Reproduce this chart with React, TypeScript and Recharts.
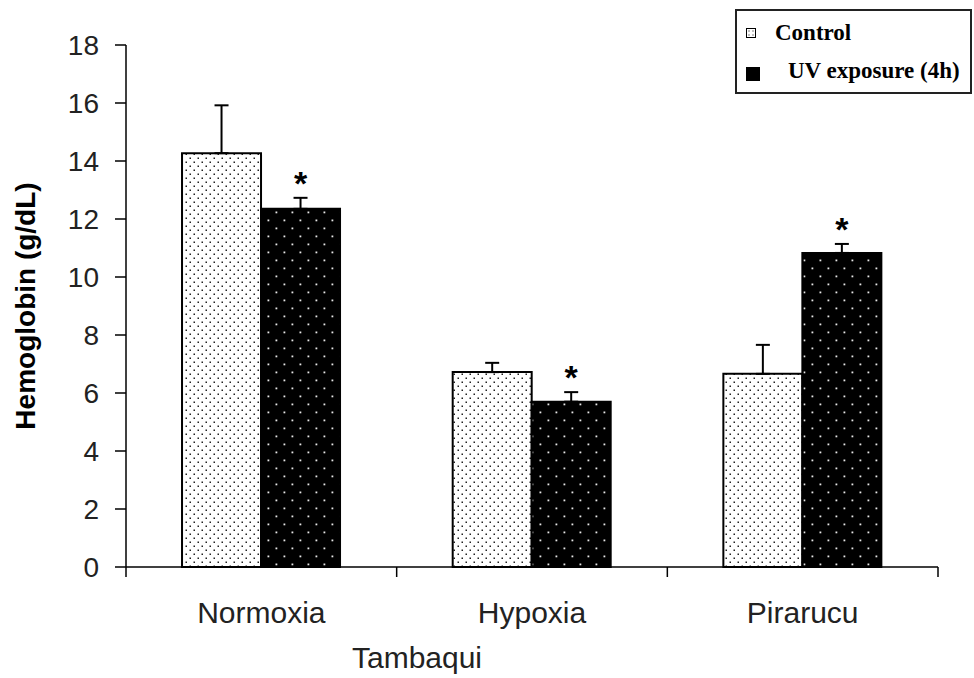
import React from "react";
import { BarChart, Bar, XAxis, YAxis, ErrorBar, LabelList, Label } from "recharts";

const categories = ["Normoxia", "Hypoxia", "Pirarucu"];
const controlMeans = [14.27, 6.72, 6.66];
const controlErrors = [1.65, 0.32, 1.0];
const uvMeans = [12.35, 5.7, 10.83];
const uvErrors = [0.38, 0.33, 0.31];
const uvSignificant = [true, true, true];
const yTicks = [0, 2, 4, 6, 8, 10, 12, 14, 16, 18];
const seriesNames = ["Control", "UV exposure (4h)"];
const groupLabel = "Tambaqui";
const yLabel = "Hemoglobin (g/dL)";

const SANS = '"Liberation Sans", Arial, sans-serif';
const SERIF = '"Liberation Serif", "Times New Roman", serif';

const data = categories.map((name, i) => ({
  name,
  control: controlMeans[i],
  controlErr: [0, controlErrors[i]],
  uv: uvMeans[i],
  uvErr: [0, uvErrors[i]],
  sig: uvSignificant[i] ? "*" : "",
}));

// category label plus tick marks on the band edges
const CategoryTick = (props: any) => {
  const { x, y, payload, index, visibleTicksCount } = props;
  const half = payload?.offset ?? 0;
  const last = index === (visibleTicksCount ?? categories.length) - 1;
  return (
    <g>
      <line x1={x - half} x2={x - half} y1={y} y2={y + 10} stroke="#000" strokeWidth={1.5} />
      {last && <line x1={x + half} x2={x + half} y1={y} y2={y + 10} stroke="#000" strokeWidth={1.5} />}
      <text x={x} y={y + 56} textAnchor="middle" fontFamily={SANS} fontSize={30} fill="#222">
        {payload.value}
      </text>
    </g>
  );
};

const StarLabel = (props: any) => {
  const vb = props.viewBox ?? props;
  const { x, y, width, height } = vb;
  const index = props.index;
  if (!uvSignificant[index] || !height) return null;
  const pxPerUnit = height / uvMeans[index];
  const capY = y - uvErrors[index] * pxPerUnit;
  return (
    <text x={x + width / 2} y={capY - 3} textAnchor="middle" fontFamily={SANS} fontWeight="bold" fontSize={34} fill="#000">
      *
    </text>
  );
};

function LegendBox() {
  return (
    <svg width={238} height={86} style={{ position: "absolute", left: 735, top: 9 }}>
      <defs>
        <pattern id="legendDots" width="4" height="4" patternUnits="userSpaceOnUse">
          <rect width="4" height="4" fill="#fff" />
          <rect x="1.5" y="1.5" width="1" height="1" fill="#000" />
        </pattern>
      </defs>
      <rect x={1} y={1} width={235} height={83} fill="#fff" stroke="#222" strokeWidth={2} />
      <rect x={11.5} y={19.5} width={9} height={9} fill="url(#legendDots)" stroke="#000" strokeWidth={1} />
      <text x={40} y={31} fontFamily={SERIF} fontWeight="bold" fontSize={23} fill="#000">
        {seriesNames[0]}
      </text>
      <rect x={11} y={58} width={14} height={14} fill="#000" />
      <text x={53} y={69} fontFamily={SERIF} fontWeight="bold" fontSize={23} fill="#000">
        {seriesNames[1]}
      </text>
    </svg>
  );
}

export default function App() {
  return (
    <div style={{ position: "absolute", left: 0, top: 0, width: 974, height: 678, background: "#fff" }}>
      <BarChart
        width={974}
        height={678}
        data={data}
        margin={{ top: 45, right: 36, bottom: 0, left: 0 }}
        barCategoryGap="20.7%"
        barGap={0}
      >
        <defs>
          <pattern id="dotsLight" width="8" height="8" patternUnits="userSpaceOnUse">
            <rect width="8" height="8" fill="#fff" />
            <rect x="1.5" y="1.5" width="1.5" height="1.5" fill="#222" />
            <rect x="5.5" y="5.5" width="1.5" height="1.5" fill="#222" />
          </pattern>
          <pattern id="dotsDark" width="16" height="16" patternUnits="userSpaceOnUse">
            <rect width="16" height="16" fill="#000" />
            <rect x="3.5" y="3.5" width="1.8" height="1.8" fill="#e8e8e8" />
            <rect x="11.5" y="11.5" width="1.8" height="1.8" fill="#e8e8e8" />
          </pattern>
        </defs>
        <XAxis
          dataKey="name"
          height={111}
          axisLine={{ stroke: "#000", strokeWidth: 1.5 }}
          tickLine={false}
          tickSize={0}
          tickMargin={0}
          tick={<CategoryTick />}
          interval={0}
        >
          <Label
            value={groupLabel}
            position="insideBottom"
            offset={10}
            dx={-115}
            style={{ fontFamily: SANS, fontSize: 30, fill: "#222" }}
          />
        </XAxis>
        <YAxis
          width={126}
          domain={[0, 18]}
          ticks={yTicks}
          interval={0}
          axisLine={{ stroke: "#000", strokeWidth: 1.5 }}
          tickLine={{ stroke: "#000", strokeWidth: 1.5 }}
          tickSize={11}
          tickMargin={16}
          tick={{ fontFamily: SANS, fontSize: 28, fill: "#222" }}
        >
          <Label
            value={yLabel}
            angle={-90}
            position="center"
            dx={-38}
            style={{ fontFamily: SANS, fontSize: 28, fontWeight: "bold", fill: "#000", textAnchor: "middle" }}
          />
        </YAxis>
        <Bar dataKey="control" name={seriesNames[0]} fill="url(#dotsLight)" stroke="#000" strokeWidth={2} isAnimationActive={false}>
          <ErrorBar dataKey="controlErr" direction="y" width={7} stroke="#000" strokeWidth={2} isAnimationActive={false} />
        </Bar>
        <Bar dataKey="uv" name={seriesNames[1]} fill="url(#dotsDark)" stroke="#000" strokeWidth={2} isAnimationActive={false}>
          <ErrorBar dataKey="uvErr" direction="y" width={7} stroke="#000" strokeWidth={2} isAnimationActive={false} />
          <LabelList dataKey="sig" content={<StarLabel />} />
        </Bar>
      </BarChart>
      <LegendBox />
    </div>
  );
}
